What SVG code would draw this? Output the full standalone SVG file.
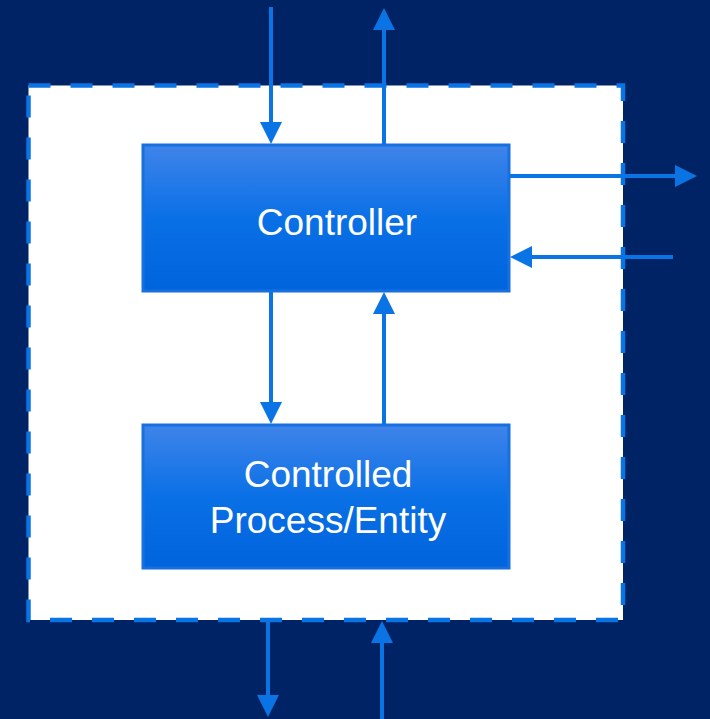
<svg xmlns="http://www.w3.org/2000/svg" width="710" height="719" viewBox="0 0 710 719">
  <defs>
    <linearGradient id="boxFill" x1="0" y1="0" x2="0" y2="1">
      <stop offset="0" stop-color="#3f84ea"/>
      <stop offset="0.5" stop-color="#0a70e6"/>
      <stop offset="1" stop-color="#0064dc"/>
    </linearGradient>
    <!-- the head reaches 12px beyond the end of its line, so the stroke never pokes past the tip -->
    <marker id="head" viewBox="0 0 22 22" refX="10" refY="11" markerWidth="22" markerHeight="22" markerUnits="userSpaceOnUse" orient="auto">
      <path d="M0,0 L22,11 L0,22 Z" fill="#0a74e4"/>
    </marker>
  </defs>
  <style>
    .frame { fill: #ffffff; stroke: #0a74e4; stroke-width: 4.5; stroke-dasharray: 22 20; }
    .box { fill: url(#boxFill); stroke: #1870e0; stroke-width: 3; }
    .label { font-family: "Liberation Sans", Arial, sans-serif; font-size: 37px; fill: #ffffff; text-anchor: middle; }
    .wire { stroke: #0a74e4; stroke-width: 4; fill: none; marker-end: url(#head); }
  </style>

  <!-- backdrop -->
  <rect x="0" y="0" width="710" height="719" fill="#002366"/>

  <!-- system boundary -->
  <g id="boundary">
    <rect class="frame" x="28.5" y="85.5" width="594.5" height="534.5"/>
  </g>

  <g id="controller">
    <rect class="box" x="143" y="145" width="366" height="146"/>
    <text class="label" x="337" y="235">Controller</text>
  </g>

  <g id="controlled-process">
    <rect class="box" x="143" y="425" width="366" height="143"/>
    <text class="label" x="328" y="487">Controlled</text>
    <text class="label" x="328" y="533">Process/Entity</text>
  </g>

  <g id="connectors">
    <!-- top inputs/outputs -->
    <line class="wire" x1="271" y1="7" x2="271" y2="132"/>
    <line class="wire" x1="384" y1="144" x2="384" y2="20"/>
    <!-- right side -->
    <line class="wire" x1="510" y1="176" x2="685" y2="176"/>
    <line class="wire" x1="673" y1="257" x2="522" y2="257"/>
    <!-- between controller and process -->
    <line class="wire" x1="271" y1="292" x2="271" y2="412"/>
    <line class="wire" x1="384" y1="424" x2="384" y2="304"/>
    <!-- bottom -->
    <line class="wire" x1="268" y1="621" x2="268" y2="705"/>
    <line class="wire" x1="382" y1="719" x2="382" y2="633"/>
  </g>
</svg>
